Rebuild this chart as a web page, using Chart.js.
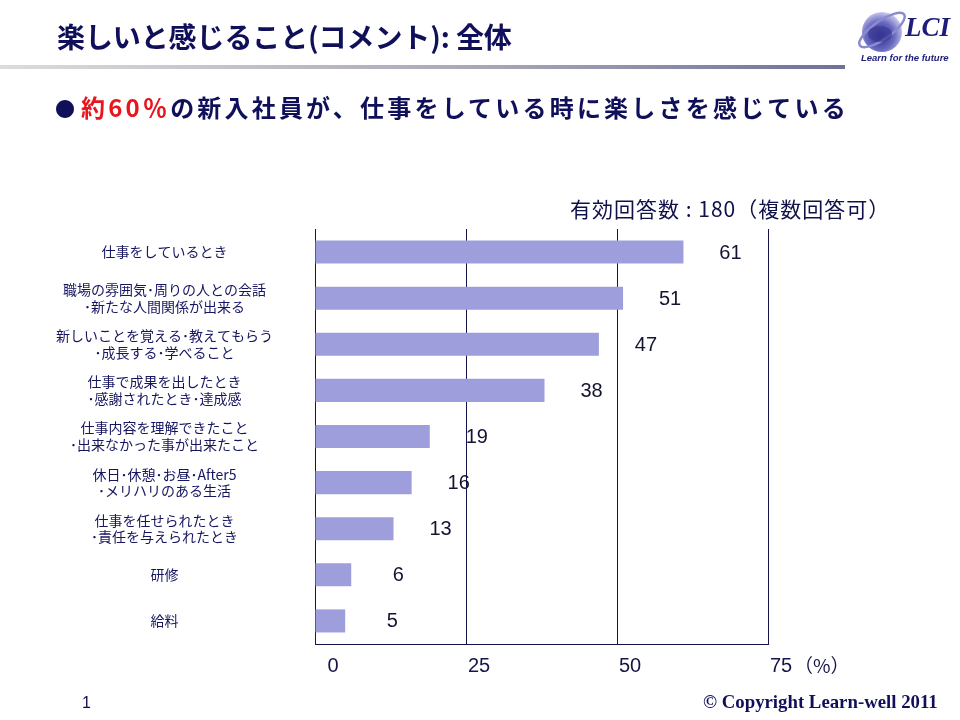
<!DOCTYPE html>
<html lang="ja">
<head>
<meta charset="utf-8">
<script src="https://cdn.jsdelivr.net/npm/chart.js@4.4.0/dist/chart.umd.min.js"></script>
<style>
  html, body { margin:0; padding:0; background:#fff; }
  body { width:960px; height:720px; position:relative; overflow:hidden; font-family:"Noto Sans CJK JP", sans-serif; }
  #chart { position:absolute; left:0; top:0; }
  .abs { position:absolute; white-space:nowrap; }
  #title { left:57px; top:16px; font-size:28px; font-weight:700; color:#10105a; line-height:40px; letter-spacing:-0.1px; }
  #rule { left:0; top:65px; width:845px; height:4px; background:linear-gradient(to right,#dcdcdc,#a4a4b6 60%,#70709a); }
  #bullet { left:55px; top:91px; font-size:24px; font-weight:700; color:#10105a; line-height:32px; letter-spacing:3.2px; }
  #bullet .red { color:#e8141e; }
  #bullet .dot { font-size:20px; letter-spacing:6px; }
  #note { left:570px; top:194px; font-size:21px; color:#10104a; line-height:28px; letter-spacing:1px; }
  #page { left:82px; top:694px; font-size:16px; color:#10105a; font-family:"Liberation Sans", Arial, sans-serif; }
  #copy { left:703px; top:691px; font-size:18.8px; font-weight:700; color:#10105a; font-family:"Liberation Serif", "Times New Roman", serif; }
  #logo { left:852px; top:2px; width:105px; height:66px; }
  #lci { left:905px; top:12px; font-family:"Liberation Serif", serif; font-style:italic; font-weight:700; font-size:27px; color:#1c1c7a; }
  #tag { left:861px; top:52px; font-family:"Liberation Sans", Arial, sans-serif; font-style:italic; font-weight:700; font-size:9.5px; color:#1c1c7a; }
</style>
</head>
<body>
<canvas id="chart" width="960" height="720"></canvas>
<div class="abs" id="title">楽しいと感じること(コメント): 全体</div>
<div class="abs" id="rule"></div>
<svg class="abs" id="logo" viewBox="0 0 105 66">
  <defs>
    <radialGradient id="sph" cx="0.45" cy="0.6" r="0.6">
      <stop offset="0" stop-color="#2a2a8a"/>
      <stop offset="0.6" stop-color="#6a6ac0"/>
      <stop offset="1" stop-color="#c8c8ee"/>
    </radialGradient>
  </defs>
  <circle cx="30" cy="30" r="20" fill="url(#sph)"/>
  <ellipse cx="30" cy="28" rx="27" ry="9" transform="rotate(-35 30 28)" fill="none" stroke="#8a8ad0" stroke-width="2.5"/>
  <ellipse cx="28" cy="32" rx="12" ry="8" fill="#3a3a96" opacity="0.7"/>
</svg>
<div class="abs" id="lci">LCI</div>
<div class="abs" id="tag">Learn for the future</div>
<div class="abs" id="bullet"><span class="dot">●</span><span class="red">約60％</span>の新入社員が、仕事をしている時に楽しさを感じている</div>
<div class="abs" id="note">有効回答数 : 180（複数回答可）</div>
<div class="abs" id="page">1</div>
<div class="abs" id="copy">© Copyright Learn-well 2011</div>
<script>
const categories = [
  ["仕事をしているとき"],
  ["職場の雰囲気･周りの人との会話", "･新たな人間関係が出来る"],
  ["新しいことを覚える･教えてもらう", "･成長する･学べること"],
  ["仕事で成果を出したとき", "･感謝されたとき･達成感"],
  ["仕事内容を理解できたこと", "･出来なかった事が出来たこと"],
  ["休日･休憩･お昼･After5", "･メリハリのある生活"],
  ["仕事を任せられたとき", "･責任を与えられたとき"],
  ["研修"],
  ["給料"]
];
const values = [61, 51, 47, 38, 19, 16, 13, 6, 5];
const xTickValues = [0, 25, 50, 75];
const xTickLabels = ["0", "25", "50", "75"];
const xUnit = "（%）";

const navy = "#14144a";

const valueLabels = {
  id: "valueLabels",
  afterDatasetsDraw(chart) {
    const ctx = chart.ctx;
    const meta = chart.getDatasetMeta(0);
    ctx.save();
    ctx.font = '20px "Liberation Sans", Arial, sans-serif';
    ctx.fillStyle = "#141430";
    ctx.textAlign = "center";
    ctx.textBaseline = "middle";
    meta.data.forEach((bar, i) => {
      ctx.fillText(String(values[i]), bar.x + 47, bar.y + 1);
    });
    ctx.restore();
  }
};

const xLabels = {
  id: "xLabels",
  afterDraw(chart) {
    const ctx = chart.ctx;
    const xs = chart.scales.x;
    const y = chart.chartArea.bottom + 22;
    ctx.save();
    ctx.font = '20px "Liberation Sans", Arial, sans-serif';
    ctx.fillStyle = navy;
    ctx.textBaseline = "middle";
    ctx.textAlign = "center";
    let lastRight = 0;
    xTickValues.forEach((v, i) => {
      const px = xs.getPixelForValue(v) + (v === 0 ? 18 : 13);
      ctx.fillText(xTickLabels[i], px, y);
      lastRight = px + ctx.measureText(xTickLabels[i]).width / 2;
    });
    ctx.textAlign = "left";
    ctx.font = '19px "Noto Sans CJK JP", sans-serif';
    ctx.fillText(xUnit, lastRight + 2, y);
    ctx.restore();
  }
};

new Chart(document.getElementById("chart"), {
  type: "bar",
  data: {
    labels: categories,
    datasets: [{
      data: values,
      backgroundColor: "#9e9edd",
      borderWidth: 0,
      barPercentage: 0.5,
      categoryPercentage: 1.0
    }]
  },
  options: {
    indexAxis: "y",
    responsive: false,
    animation: false,
    devicePixelRatio: 1,
    layout: { padding: { left: 45, top: 229, right: 192, bottom: 76 } },
    plugins: { legend: { display: false }, tooltip: { enabled: false } },
    scales: {
      x: {
        min: 0, max: 75,
        ticks: { display: false, stepSize: 25 },
        grid: { color: navy, lineWidth: 1, drawTicks: false },
        border: { display: true, color: navy, width: 1 },
        afterFit(s) { s.height = 0; }
      },
      y: {
        ticks: {
          font: { family: '"Noto Sans CJK JP", sans-serif', size: 14, lineHeight: 1.2 },
          color: "#161660",
          crossAlign: "center",
          padding: 42,
          autoSkip: false
        },
        grid: { display: false, drawTicks: false },
        border: { display: true, color: navy, width: 1 },
        afterFit(s) { s.width = 270; }
      }
    }
  },
  plugins: [valueLabels, xLabels]
});
</script>
</body>
</html>
